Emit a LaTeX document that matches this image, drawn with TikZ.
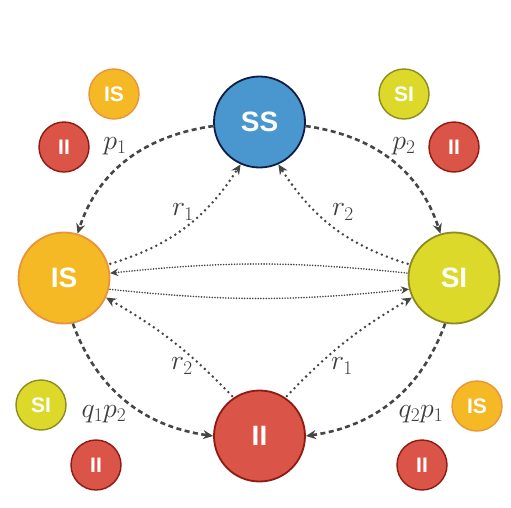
\documentclass[tikz,border=0pt]{standalone}
\usepackage{fontspec}
\usepackage{graphicx}
\setsansfont{Liberation Sans}
\usetikzlibrary{arrows.meta}
\definecolor{ssfill}{HTML}{4A96CF}
\definecolor{ssdraw}{HTML}{0F1E45}
\definecolor{isfill}{HTML}{F4B924}
\definecolor{isdraw}{HTML}{E9943A}
\definecolor{sifill}{HTML}{DDD92B}
\definecolor{sidraw}{HTML}{8D8C1F}
\definecolor{iifill}{HTML}{DA5447}
\definecolor{iidraw}{HTML}{8E1A12}
\definecolor{arrowgray}{HTML}{454545}
\definecolor{labgray}{HTML}{3C3C3C}
\newcommand{\lbl}[1]{\scalebox{1.12}{$#1$}}
\begin{document}
\begin{tikzpicture}[x=1pt,y=1pt,
  big/.style={circle, minimum size=91pt, inner sep=0pt, line width=1.8pt,
    font=\fontsize{28}{30}\selectfont\sffamily\bfseries, text=white},
  small/.style={circle, minimum size=50pt, inner sep=0pt, line width=1.4pt,
    font=\fontsize{21}{24}\selectfont\sffamily\bfseries, text=white},
  ssc/.style={fill=ssfill, draw=ssdraw},
  isc/.style={fill=isfill, draw=isdraw},
  sic/.style={fill=sifill, draw=sidraw},
  iic/.style={fill=iifill, draw=iidraw},
  lab/.style={text=labgray, font=\fontsize{24}{28}\selectfont, inner sep=0pt},
  dsh/.style={draw=arrowgray, line width=2.6pt, dash pattern=on 5pt off 3.5pt,
    -{Stealth[length=10pt,width=9pt]}},
  dtt/.style={draw=arrowgray, line width=2.8pt, line cap=round, dash pattern=on 0pt off 5.5pt,
    -{Stealth[length=10pt,width=9pt]}, shorten <=2pt},
  fine/.style={draw=arrowgray, line width=1.8pt, line cap=round, dash pattern=on 0pt off 2.7pt,
    -{Stealth[length=8pt,width=7.5pt]}, shorten <=1pt}
]
\useasboundingbox (0,0) rectangle (511,-507);
% big circles
\node[big,ssc] (SS) at (259.5,-122) {SS};
\node[big,isc] (IS) at (64,-278) {IS};
\node[big,sic] (SI) at (454,-278) {SI};
\node[big,iic] (II) at (259.5,-436) {II};
% small circles
\node[small,isc] (is1) at (114,-94) {IS};
\node[small,iic] (ii1) at (64,-147) {II};
\node[small,sic] (si1) at (404,-94) {SI};
\node[small,iic] (ii2) at (454,-147) {II};
\node[small,sic] (si2) at (41,-405) {SI};
\node[small,iic] (ii3) at (96,-465) {II};
\node[small,isc] (is2) at (477,-406) {IS};
\node[small,iic] (ii4) at (422,-465) {II};
% labels
\node[lab] (lp1) at (115,-146) {\lbl{p_1}};
\node[lab] (lp2) at (404,-146) {\lbl{p_2}};
\node[lab] (lr1a) at (183,-212) {\lbl{r_1}};
\node[lab] (lr2a) at (343,-212) {\lbl{r_2}};
\node[lab] (lr2b) at (182,-366) {\lbl{r_2}};
\node[lab] (lr1b) at (342,-366) {\lbl{r_1}};
\node[lab] (lq1) at (104,-414) {\lbl{q_1p_2}};
\node[lab] (lq2) at (421,-414) {\lbl{q_2p_1}};
% dashed arrows
\draw[dsh] (SS.185) to[out=188,in=72] (IS.73);
\draw[dsh] (SS.-5) to[out=-8,in=108] (SI.107);
\draw[dsh] (IS.-79) to[out=-70,in=172] (II.180);
\draw[dsh] (SI.-101) to[out=-110,in=8] (II.0);
% dotted arrows
\draw[dtt] (IS.17) to[bend right=20] (SS.-114);
\draw[dtt] (SI.163) to[bend left=20] (SS.-66);
\draw[dtt] (II.124) to[bend right=8] (IS.-25);
\draw[dtt] (II.56) to[bend left=8] (SI.-155);
\draw[fine] (SI.174) to[bend right=6] (IS.6);
\draw[fine] (IS.-14) to[bend right=6] (SI.194);
\end{tikzpicture}
\end{document}
